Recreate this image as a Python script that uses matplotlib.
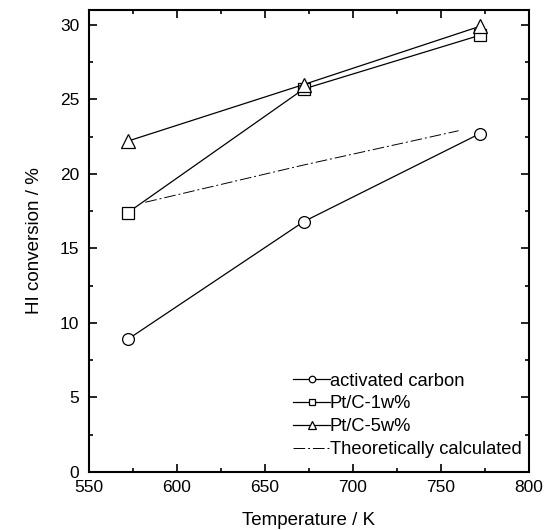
import numpy as np
import matplotlib.pyplot as plt
from matplotlib.ticker import MultipleLocator

plt.rcParams['font.family'] = ['Liberation Sans', 'DejaVu Sans']

# temperatures (K)
temp = [572, 672, 772]
# HI conversion (%)
carbon = [8.9, 16.8, 22.7]
pt1 = [17.4, 25.7, 29.3]
pt5 = [22.2, 26.0, 29.9]
# theoretical line
temp_theo = [582, 672, 760]
theo = [18.1, 20.6, 22.9]

fig = plt.figure(figsize=(5.57, 5.30), dpi=100)
ax = fig.add_axes([89/557, 1 - 472/530, 440/557, 462/530])

ax.plot(temp, carbon, color='black', lw=0.9, marker='o', ms=8.5, mfc='white', mew=0.9, label='activated carbon')
ax.plot(temp, pt1, color='black', lw=0.9, marker='s', ms=8.5, mfc='white', mew=0.9, label='Pt/C-1w%')
ax.plot(temp, pt5, color='black', lw=0.9, marker='^', ms=9.5, mfc='white', mew=0.9, label='Pt/C-5w%')
ax.plot(temp_theo, theo, color='black', lw=0.7, dashes=(12, 3, 2, 3), label='Theoretically calculated')

ax.set_xlim(550, 800)
ax.set_ylim(0, 31)
ax.xaxis.set_major_locator(MultipleLocator(50))
ax.xaxis.set_minor_locator(MultipleLocator(25))
ax.yaxis.set_major_locator(MultipleLocator(5))
ax.yaxis.set_minor_locator(MultipleLocator(2.5))
ax.tick_params(which='both', direction='in', top=True, right=True, labelsize=12.5, width=1.2)
ax.tick_params(which='major', length=6)
ax.tick_params(which='minor', length=3)
ax.tick_params(axis='x', pad=6)
ax.tick_params(axis='y', pad=7)
for sp in ax.spines.values():
    sp.set_linewidth(1.5)

ax.set_xlabel('Temperature / K', fontsize=13.5, labelpad=12)
ax.set_ylabel('HI conversion / %', fontsize=13.5, labelpad=12)

leg = ax.legend(loc='lower right', bbox_to_anchor=(1.0, 0.014), frameon=False,
                fontsize=13.2, handlelength=2.0, handletextpad=0.0,
                labelspacing=0.32, markerscale=0.55, borderaxespad=0.0)

plt.savefig('out.png', dpi=100)
